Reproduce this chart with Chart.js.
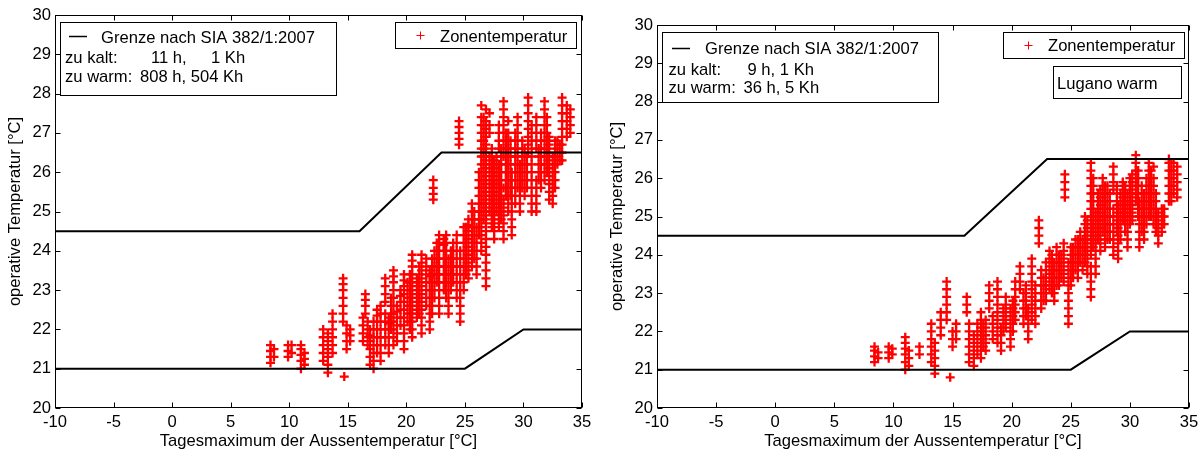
<!DOCTYPE html>
<html><head><meta charset="utf-8">
<script src="https://cdn.jsdelivr.net/npm/chart.js@4.4.1/dist/chart.umd.min.js"></script>
<style>
html,body{margin:0;padding:0;background:#fff;width:1203px;height:454px;overflow:hidden}
#c1{position:absolute;left:0;top:0}
#c2{position:absolute;left:600px;top:0}
</style>
</head><body>
<canvas id="c1" width="600" height="454"></canvas>
<canvas id="c2" width="603" height="454"></canvas>
<script>
// ---------- data ----------
const xTickValues = [-10, -5, 0, 5, 10, 15, 20, 25, 30, 35];
const yTickValues = [20, 21, 22, 23, 24, 25, 26, 27, 28, 29, 30];
const xTitle = "Tagesmaximum der Aussentemperatur [°C]";
const yTitle = "operative Temperatur [°C]";

// SIA 382/1:2007 limits
const upperLimitX = [-10, 16, 23, 35];
const upperLimitY = [24.5, 24.5, 26.5, 26.5];
const lowerLimitX = [-10, 25, 30, 35];
const lowerLimitY = [21, 21, 22, 22];

// Left panel: daily max outdoor temperature and zone temperatures of that day
const leftDayMax = [8.4, 8.7, 9.9, 10.2, 11.0, 11.3, 12.9, 13.3, 13.7, 14.6, 14.7, 14.9, 15.2,
  16.3, 16.5, 16.9, 17.2, 17.5, 17.8, 18.2, 18.5, 18.9, 19.2, 19.5, 19.8, 20.1, 20.5, 20.9,
  21.3, 21.7, 22.0, 22.3, 22.4, 22.8, 23.2, 23.6, 24.0, 24.5, 24.6, 24.9, 25.3, 25.6, 26.0,
  26.4, 26.8, 27.1, 27.5, 27.9, 28.3, 28.7, 29.0, 29.3, 29.7, 30.1, 30.4, 30.7, 31.1, 31.5,
  31.8, 32.2, 32.5, 32.9, 33.3, 33.7, 34.0,
  16.7, 18.7, 20.3, 21.1, 22.2, 22.6, 23.4, 23.8, 24.3, 25.1, 25.8, 26.2, 26.6, 27.3, 27.7,
  28.1, 28.5, 28.9, 29.5, 29.9, 30.3, 31.3, 32.0, 32.7, 33.1];
const leftZoneTemp = [
  [21.15, 21.3, 21.45, 21.6], [21.3, 21.5], [21.3, 21.45, 21.6], [21.4, 21.6],
  [21.0, 21.2, 21.35, 21.5, 21.6], [21.1, 21.25, 21.4],
  [21.2, 21.4, 21.6, 21.8, 22.0], [20.9, 21.1, 21.3, 21.5, 21.7, 21.9],
  [21.4, 21.6, 21.8, 22.0, 22.2, 22.4], [22.2, 22.4, 22.6, 22.8, 23.0, 23.15, 23.3],
  [20.8], [21.5, 21.7, 21.9, 22.1], [21.7, 21.85, 22.0],
  [21.7, 21.9, 22.1, 22.3], [22.4, 22.6, 22.75, 22.9],
  [21.1, 21.3, 21.5, 21.7, 21.85, 22.0], [21.0, 21.2, 21.4, 21.6, 21.8, 22.0, 22.2],
  [21.4, 21.6, 21.8, 22.0, 22.2, 22.35, 22.5], [21.2, 21.4, 21.6, 21.8, 22.0, 22.2, 22.4, 22.6],
  [21.6, 21.8, 22.0, 22.2, 22.4, 22.7, 22.9, 23.1, 23.3], [21.4, 21.6, 21.8, 22.0, 22.15, 22.3],
  [21.6, 21.8, 22.0, 22.2, 22.4, 22.6, 22.8, 23.0, 23.2, 23.35, 23.5],
  [21.7, 21.9, 22.1, 22.3, 22.45, 22.6], [22.1, 22.3, 22.5, 22.7, 22.85, 23.0],
  [21.5, 21.7, 21.9, 22.1, 22.3, 22.5, 22.7, 22.9, 23.1, 23.25, 23.4],
  [22.2, 22.4, 22.6, 22.8, 23.0, 23.2],
  [21.8, 22.0, 22.2, 22.4, 22.6, 22.8, 23.0, 23.2, 23.4, 23.6, 23.75, 23.9],
  [22.3, 22.5, 22.7, 22.9, 23.1, 23.3],
  [21.9, 22.1, 22.3, 22.5, 22.7, 22.9, 23.1, 23.3, 23.5, 23.7, 23.9],
  [22.6, 22.8, 23.0, 23.2, 23.4, 23.6, 23.8],
  [22.0, 22.2, 22.4, 22.6, 22.8, 23.0, 23.2, 23.35, 23.5],
  [25.3, 25.45, 25.6, 25.8],
  [22.8, 23.0, 23.2, 23.4, 23.6, 23.8, 24.0],
  [22.4, 22.6, 22.8, 23.0, 23.2, 23.4, 23.6, 23.8, 24.0, 24.2, 24.4],
  [23.0, 23.2, 23.4, 23.6, 23.8, 24.0, 24.15, 24.3],
  [22.4, 22.6, 22.8, 23.0, 23.2, 23.4, 23.6, 23.8],
  [23.2, 23.4, 23.6, 23.8, 24.0, 24.2],
  [26.7, 26.85, 27.0, 27.15, 27.3],
  [22.2, 22.4, 22.6, 22.8, 23.0, 23.2, 23.4, 23.6, 23.8, 24.0],
  [23.0, 23.2, 23.4, 23.6, 23.8, 24.0, 24.2, 24.4, 24.6],
  [23.3, 23.5, 23.7, 23.9, 24.1, 24.3, 24.5, 24.65, 24.8],
  [23.6, 23.8, 24.0, 24.2, 24.4, 24.6, 24.8, 25.0, 25.2],
  [23.4, 23.6, 23.8, 24.0, 24.2, 24.4, 24.6],
  [24.0, 24.2, 24.4, 24.6, 24.8, 25.0, 25.2, 25.4, 25.6, 25.8, 26.0, 26.2, 26.4, 26.6, 26.8, 27.0, 27.2, 27.4, 27.7],
  [23.1, 23.3, 23.5, 23.7, 23.9, 24.1, 24.3, 24.5, 24.7, 24.9, 25.1, 25.3, 25.5, 25.7, 25.9, 26.1, 26.3, 26.5, 26.7, 26.9, 27.1, 27.3, 27.6],
  [25.0, 25.2, 25.4, 25.6, 25.8, 26.0, 26.2, 26.4, 27.0, 27.2, 27.5],
  [24.3, 24.5, 24.7, 24.9, 25.1, 25.3, 25.5, 25.7, 25.9, 26.1, 26.3],
  [24.6, 24.8, 25.0, 25.2, 25.4, 25.6, 25.8, 26.0, 26.2, 26.6, 26.8, 27.0, 27.2],
  [24.3, 24.5, 24.7, 24.9, 25.1, 25.3, 25.6, 26.4, 26.6, 26.8, 27.0, 27.2, 27.4, 27.6, 27.8],
  [25.0, 25.2, 25.4, 25.6, 25.8, 26.0, 26.2, 26.4, 26.6, 26.8, 27.0, 27.3],
  [24.4, 24.6, 24.8, 25.0, 25.2, 25.4, 25.6, 25.8, 26.0],
  [25.2, 25.4, 25.6, 25.8, 26.0, 26.2, 26.4, 26.6, 26.8, 27.0],
  [25.0, 25.2, 25.4, 25.6, 25.8, 26.0, 26.2],
  [25.4, 25.6, 25.8, 26.0, 26.2, 26.4, 26.6],
  [26.5, 26.7, 26.9, 27.1, 27.3, 27.5, 27.7, 27.9],
  [25.0, 25.2, 25.4, 25.6, 25.8, 26.0, 26.2, 26.4, 26.6, 26.8, 27.0, 27.2],
  [25.0, 25.2, 25.4, 25.6, 25.8, 26.6, 26.8, 27.0, 27.2, 27.4],
  [25.6, 25.8, 26.0, 26.2, 26.4, 26.6, 26.8, 27.0],
  [25.8, 26.0, 26.2, 26.4, 26.6, 26.8, 27.0, 27.2, 27.4, 27.6, 27.8],
  [25.3, 25.5, 25.7, 25.9, 26.1, 26.3, 26.5, 26.7, 26.9],
  [25.2, 25.4, 25.6, 25.8, 26.0, 26.2, 26.4],
  [26.2, 26.4, 26.6, 26.8],
  [26.3, 26.5, 26.7, 26.9, 27.1, 27.3, 27.5, 27.7, 27.9],
  [26.9, 27.1, 27.3, 27.5, 27.7],
  [27.0, 27.2, 27.4, 27.6],
  // further days
  [21.6, 21.8, 22.0, 22.2],
  [22.0, 22.2, 22.4, 22.6, 22.8],
  [22.0, 22.2, 22.4, 22.6, 22.8, 23.0, 23.2, 23.4],
  [22.4, 22.6, 22.8, 23.0, 23.2, 23.4, 23.6],
  [22.4, 22.6, 22.8, 23.0, 23.2, 23.4, 23.6, 23.8],
  [23.2, 23.4, 23.6, 23.8, 24.0, 24.2],
  [22.8, 23.0, 23.2, 23.4, 23.6, 23.8, 24.0, 24.2, 24.4],
  [23.0, 23.2, 23.4, 23.6, 23.8, 24.0],
  [22.8, 23.0, 23.2, 23.4, 23.6, 23.8, 24.0, 24.2, 24.4],
  [23.4, 23.6, 23.8, 24.0, 24.2, 24.4, 24.6],
  [23.8, 24.0, 24.2, 24.4, 24.6, 24.8, 25.0],
  [24.4, 24.6, 24.8, 25.0, 25.2, 25.4, 25.6, 25.8, 26.0],
  [24.8, 25.0, 25.2, 25.4, 25.6, 25.8, 26.0, 26.2, 26.4, 26.6, 26.8, 27.0, 27.2, 27.4],
  [24.6, 24.8, 25.0, 25.2, 25.4, 25.6, 25.8, 26.0, 26.2, 26.4, 26.6],
  [25.0, 25.2, 25.4, 25.6, 25.8, 26.0, 26.2, 26.4],
  [24.8, 25.0, 25.2, 25.4, 25.6, 25.8, 26.0, 26.2, 26.4, 26.6],
  [25.4, 25.6, 25.8, 26.0, 26.2, 26.4, 26.6, 26.8, 27.0],
  [25.4, 25.6, 25.8, 26.0, 26.2, 26.4, 26.6, 26.8],
  [25.6, 25.8, 26.0, 26.2, 26.4, 26.6, 26.8, 27.0, 27.2, 27.4],
  [25.6, 25.8, 26.0, 26.2, 26.4, 26.6, 26.8],
  [25.6, 25.8, 26.0, 26.2, 26.4],
  [25.8, 26.0, 26.2, 26.4, 26.6],
  [26.0, 26.2, 26.4, 26.6, 26.8, 27.0, 27.2, 27.4],
  [25.6, 25.8, 26.0, 26.2, 26.4, 26.6, 26.8],
  [26.3, 26.5, 26.7]
];

// Right panel (Lugano warm)
const rightDayMax = [8.4, 8.7, 9.6, 9.9, 11.0, 11.3, 12.2, 13.2, 13.5, 14.0, 14.5, 14.8, 15.0, 15.3,
  16.2, 16.4, 16.8, 17.1, 17.4, 17.8, 18.1, 18.4, 18.8, 19.1, 19.5, 19.9, 20.3, 20.7, 21.0,
  21.4, 21.7, 22.0, 22.3, 22.5, 22.9, 23.2, 23.6, 24.0, 24.4, 24.5, 24.8, 25.2, 25.6, 26.0,
  26.4, 26.7, 27.1, 27.5, 27.9, 28.3, 28.6, 29.0, 29.4, 29.8, 30.2, 30.5, 30.8, 31.2, 31.6,
  32.0, 32.4, 32.7, 33.3, 33.7, 34.0,
  17.6, 19.3, 20.1, 21.2, 22.7, 23.4, 23.8, 24.2, 25.0, 25.4, 25.8, 26.2, 26.9, 27.3, 27.7,
  28.1, 28.9, 29.2, 29.6, 30.0, 30.7, 31.0, 31.4, 31.8, 32.2, 32.9, 33.5];
const rightZoneTemp = [
  [21.2, 21.35, 21.5, 21.6], [21.3, 21.45], [21.3, 21.45, 21.6], [21.4, 21.55],
  [21.0, 21.2, 21.4, 21.55, 21.7, 21.85], [21.1, 21.3, 21.5], [21.4, 21.6],
  [21.2, 21.4, 21.6, 21.8, 22.0, 22.2], [20.9, 21.1, 21.3, 21.5, 21.7],
  [21.9, 22.1, 22.3, 22.5], [22.3, 22.5, 22.7, 22.9, 23.1, 23.3], [20.8],
  [21.6, 21.8, 22.0], [21.8, 22.0, 22.2],
  [22.5, 22.7, 22.9], [21.2, 21.4, 21.6, 21.8, 22.0, 22.2], [21.1, 21.3, 21.5, 21.7, 21.9],
  [21.4, 21.6, 21.8, 22.0, 22.2], [21.3, 21.5, 21.7, 21.9, 22.1, 22.3, 22.5],
  [21.5, 21.7, 21.9, 22.1, 22.3], [22.6, 22.8, 23.0, 23.2], [21.8, 22.0, 22.2, 22.4],
  [21.7, 21.9, 22.1, 22.3, 22.5, 22.7, 22.9, 23.1, 23.3], [21.5, 21.7, 21.9, 22.1],
  [22.1, 22.3, 22.5, 22.7, 22.9], [21.6, 21.8, 22.0, 22.2, 22.4, 22.6],
  [22.3, 22.5, 22.7, 22.9, 23.1, 23.3], [23.1, 23.3, 23.5, 23.7], [22.2, 22.4, 22.6, 22.8, 23.0],
  [21.8, 22.0, 22.2, 22.4, 22.6], [22.3, 22.5, 22.7, 22.9, 23.1, 23.3, 23.5, 23.7, 23.9],
  [22.2, 22.4, 22.6, 22.8, 23.0, 23.2], [24.3, 24.5, 24.7, 24.9],
  [22.6, 22.8, 23.0, 23.2, 23.4, 23.6], [22.8, 23.0, 23.2, 23.4, 23.6, 23.8],
  [23.1, 23.3, 23.5, 23.7, 23.9, 24.1], [22.8, 23.0, 23.2, 23.4, 23.6, 23.8],
  [23.2, 23.4, 23.6, 23.8, 24.0], [23.3, 23.5, 23.7, 23.9, 24.1, 24.3],
  [25.5, 25.7, 25.9, 26.1],
  [22.2, 22.4, 22.6, 22.8, 23.0, 23.2, 23.4, 23.6, 23.8],
  [23.4, 23.6, 23.8, 24.0, 24.2], [23.4, 23.6, 23.8, 24.0, 24.2, 24.4],
  [23.6, 23.8, 24.0, 24.2, 24.4], [23.5, 23.7, 23.9, 24.1, 24.3, 24.5, 24.7, 24.9],
  [22.9, 23.1, 23.3, 23.5, 23.7, 24.0, 24.2, 24.4, 24.6, 24.8, 25.0, 25.2, 25.4, 25.6, 25.8, 26.0, 26.2, 26.4],
  [23.5, 23.7, 23.9, 24.1, 24.3, 24.5, 24.7, 24.9, 25.1],
  [24.1, 24.3, 24.5, 24.7, 24.9, 25.1, 25.3, 25.5, 25.7],
  [24.2, 24.4, 24.6, 24.8, 25.0, 25.2, 25.4, 25.6, 25.8],
  [24.4, 24.6, 24.8, 25.0, 25.2, 25.4, 25.6],
  [24.0, 24.2, 24.4, 24.6, 24.8, 25.0, 25.2, 25.7, 25.9, 26.1, 26.3],
  [23.9, 24.1, 24.3, 24.5, 24.7, 24.9, 25.1, 25.3],
  [24.9, 25.1, 25.3, 25.5, 25.7, 25.9],
  [24.2, 24.4, 24.6, 24.8, 25.0, 25.2, 25.4, 25.6],
  [24.9, 25.1, 25.3, 25.5, 25.7, 25.9, 26.1],
  [25.4, 25.6, 25.8, 26.0, 26.2, 26.4, 26.6],
  [24.2, 24.4, 24.6, 24.8, 25.0, 25.2, 25.4],
  [24.4, 24.6, 24.8, 25.0, 25.2, 25.4, 25.6],
  [25.0, 25.2, 25.4, 25.6, 25.8, 26.0, 26.2, 26.4],
  [24.8, 25.0, 25.2, 25.4, 25.6, 25.8, 26.0, 26.3],
  [24.3, 24.5, 24.7, 24.9, 25.1], [24.6, 24.8, 25.0, 25.2],
  [25.4, 25.6, 25.8, 26.0, 26.2, 26.4, 26.5], [25.6, 25.8, 26.0, 26.2, 26.4],
  [25.5, 25.7, 25.9, 26.1, 26.3],
  // further days
  [21.6, 21.8, 22.0, 22.2],
  [22.0, 22.2, 22.4, 22.6],
  [22.0, 22.2, 22.4, 22.6, 22.8],
  [22.4, 22.6, 22.8, 23.0, 23.2],
  [22.8, 23.0, 23.2, 23.4],
  [23.0, 23.2, 23.4, 23.6, 23.8, 24.0],
  [23.2, 23.4, 23.6, 23.8, 24.0, 24.2],
  [23.4, 23.6, 23.8, 24.0],
  [23.2, 23.4, 23.6, 23.8, 24.0, 24.2],
  [23.6, 23.8, 24.0, 24.2, 24.4],
  [23.8, 24.0, 24.2, 24.4, 24.6],
  [23.8, 24.0, 24.2, 24.4, 24.6, 24.8, 25.0],
  [24.2, 24.4, 24.6, 24.8, 25.0, 25.2, 25.4, 25.6, 25.8, 26.0],
  [24.4, 24.6, 24.8, 25.0, 25.2, 25.4, 25.6],
  [24.6, 24.8, 25.0, 25.2, 25.4, 25.6, 25.8, 26.0],
  [24.4, 24.6, 24.8, 25.0, 25.2, 25.4, 25.6, 25.8],
  [24.6, 24.8, 25.0, 25.2, 25.4, 25.6, 25.8],
  [24.4, 24.6, 24.8, 25.0, 25.2, 25.4, 25.6],
  [24.6, 24.8, 25.0, 25.2, 25.4, 25.6, 25.8],
  [24.8, 25.0, 25.2, 25.4, 25.6, 25.8, 26.0],
  [25.0, 25.2, 25.4, 25.6, 25.8, 26.0, 26.2],
  [24.6, 24.8, 25.0, 25.2, 25.4, 25.6, 25.8],
  [24.8, 25.0, 25.2, 25.4, 25.6, 25.8, 26.0],
  [25.0, 25.2, 25.4, 25.6, 25.8, 26.0, 26.2],
  [24.6, 24.8, 25.0, 25.2, 25.4, 25.6],
  [24.8, 25.0, 25.2],
  [25.4, 25.6, 25.8, 26.0, 26.2, 26.4]
];

// ---------- rendering ----------
const FONT = '"Liberation Sans", Arial, Helvetica, sans-serif';
const FS = 16.6;
const RED = 'rgb(255,0,0)';

function toPoints(xs, ys) { return xs.map((x, i) => ({ x: x, y: ys[i] })); }
function zonePoints(days, temps) {
  const pts = [];
  days.forEach((d, i) => temps[i].forEach(t => pts.push({ x: d, y: t })));
  return pts;
}

const decoPlugin = {
  id: 'panelDeco',
  afterDraw(chart, args, o) {
    const ctx = chart.ctx, ca = chart.chartArea;
    const xs = chart.scales.x, ys = chart.scales.y;
    ctx.save();
    ctx.strokeStyle = '#000';
    ctx.lineWidth = 1;
    const L = Math.round(ca.left) + 0.5, R = Math.round(ca.right) - 0.5;
    const T = Math.round(ca.top) + 0.5, B = Math.round(ca.bottom) - 0.5;
    ctx.strokeRect(L, T, R - L, B - T);
    ctx.beginPath();
    xTickValues.forEach(v => {
      const p = Math.round(xs.getPixelForValue(v)) + 0.5;
      ctx.moveTo(p, B); ctx.lineTo(p, B - 5);
      ctx.moveTo(p, T); ctx.lineTo(p, T + 5);
    });
    yTickValues.forEach(v => {
      const p = Math.round(ys.getPixelForValue(v)) + 0.5;
      ctx.moveTo(L, p); ctx.lineTo(L + 5, p);
      ctx.moveTo(R, p); ctx.lineTo(R - 5, p);
    });
    ctx.stroke();
    // axis titles
    ctx.fillStyle = '#000';
    ctx.font = FS + 'px ' + FONT;
    ctx.textAlign = 'center';
    ctx.textBaseline = 'alphabetic';
    ctx.fillText(xTitle, (ca.left + ca.right) / 2, o.xTitleY);
    ctx.save();
    ctx.translate(o.yTitleX, (ca.top + ca.bottom) / 2);
    ctx.rotate(-Math.PI / 2);
    ctx.fillText(yTitle, 0, 0);
    ctx.restore();
    // legend boxes
    ctx.fillStyle = '#fff';
    o.boxes.forEach(b => {
      ctx.fillRect(b[0], b[1], b[2], b[3]);
      ctx.strokeRect(b[0], b[1], b[2], b[3]);
    });
    ctx.lineWidth = 1.5;
    o.lines.forEach(l => { ctx.beginPath(); ctx.moveTo(l[0], l[2]); ctx.lineTo(l[1], l[2]); ctx.stroke(); });
    ctx.strokeStyle = RED; ctx.lineWidth = 1;
    o.crosses.forEach(c => {
      ctx.beginPath();
      ctx.moveTo(c[0] - 4, c[1]); ctx.lineTo(c[0] + 4, c[1]);
      ctx.moveTo(c[0], c[1] - 4); ctx.lineTo(c[0], c[1] + 4);
      ctx.stroke();
    });
    ctx.fillStyle = '#000';
    ctx.textAlign = 'left';
    o.texts.forEach(t => ctx.fillText(t[0], t[1], t[2]));
    ctx.restore();
  }
};

function makeChart(id, days, temps, geo, deco) {
  const ctx = document.getElementById(id);
  return new Chart(ctx, {
    type: 'scatter',
    data: {
      datasets: [
        { data: toPoints(upperLimitX, upperLimitY), showLine: true, borderColor: '#000', borderWidth: 2,
          pointRadius: 0, fill: false, order: 1 },
        { data: toPoints(lowerLimitX, lowerLimitY), showLine: true, borderColor: '#000', borderWidth: 2,
          pointRadius: 0, fill: false, order: 1 },
        { data: zonePoints(days, temps), showLine: false, pointStyle: 'cross', pointRadius: 4.5,
          pointBorderColor: RED, pointBackgroundColor: RED, pointBorderWidth: 2.3, order: 2 }
      ]
    },
    options: {
      responsive: false, animation: false, events: [],
      layout: { padding: { left: 0, right: geo.right, top: geo.top, bottom: 0 } },
      plugins: { legend: { display: false }, tooltip: { enabled: false }, panelDeco: deco },
      scales: {
        x: {
          type: 'linear', min: -10, max: 35,
          afterBuildTicks: s => { s.ticks = xTickValues.map(v => ({ value: v })); },
          afterFit: s => { s.height = geo.xHeight; },
          grid: { display: false, drawTicks: false }, border: { display: false },
          ticks: { color: '#000', font: { family: FONT, size: FS }, padding: 4, maxRotation: 0, autoSkip: false }
        },
        y: {
          type: 'linear', min: 20, max: 30,
          afterBuildTicks: s => { s.ticks = yTickValues.map(v => ({ value: v })); },
          afterFit: s => { s.width = geo.left; },
          grid: { display: false, drawTicks: false }, border: { display: false },
          ticks: { color: '#000', font: { family: FONT, size: FS }, padding: 4, autoSkip: false }
        }
      }
    },
    plugins: [decoPlugin]
  });
}

makeChart('c1', leftDayMax, leftZoneTemp,
  { left: 55, right: 18, top: 15, xHeight: 46 },
  {
    xTitleY: 446, yTitleX: 20,
    boxes: [[60.5, 22.5, 276, 73], [395.5, 22.5, 181, 26]],
    lines: [[69, 87, 36.5]],
    crosses: [[420.5, 35.5]],
    texts: [["Grenze nach SIA 382/1:2007", 101, 42.5], ["zu kalt:", 65, 63], ["11 h,", 151, 63],
      ["1 Kh", 211, 63], ["zu warm:", 65, 82], ["808 h, 504 Kh", 140, 82], ["Zonentemperatur", 440, 41.5]]
  });

makeChart('c2', rightDayMax, rightZoneTemp,
  { left: 57, right: 14, top: 25, xHeight: 46 },
  {
    xTitleY: 446, yTitleX: 22,
    boxes: [[62.5, 32.5, 276, 70], [403.5, 32.5, 181, 26], [453.5, 66.5, 128, 32]],
    lines: [[72, 90, 48.5]],
    crosses: [[428.5, 45.5]],
    texts: [["Grenze nach SIA 382/1:2007", 105, 54], ["zu kalt:", 68.5, 75], ["9 h, 1 Kh", 147.5, 75],
      ["zu warm:", 68.5, 93], ["36 h, 5 Kh", 143.5, 93], ["Zonentemperatur", 448, 51], ["Lugano warm", 457, 89]]
  });
</script>
</body></html>
